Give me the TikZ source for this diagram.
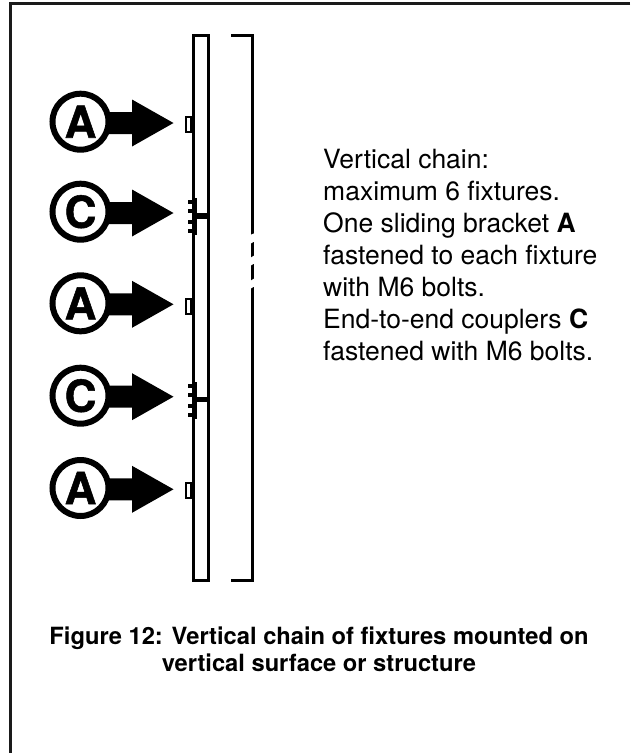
\documentclass[tikz,border=0pt]{standalone}
\usepackage{fontspec}
\setmainfont{TeX Gyre Heros}
\newfontfamily\ringfont[BoldFeatures={FakeBold=1.2}]{TeX Gyre Heros}
\definecolor{edge}{HTML}{1A1A1A}
\tikzset{
  part/.style={draw=black,line width=3pt,fill=white},
  wire/.style={draw=black,line width=3pt},
  tiny/.style={draw=black,line width=2pt,fill=white},
  ring/.style={circle,draw=black,line width=6pt,fill=white,minimum size=56pt,inner sep=0pt,font=\fontsize{44}{44}\selectfont\ringfont\bfseries},
  pointer/.style={fill=black,draw=none},
  gap/.style={fill=white,draw=none},
  bodytext/.style={anchor=north west,align=left,inner sep=0pt,font=\fontsize{26.5}{32}\selectfont},
  captext/.style={align=center,inner sep=0pt,font=\fontsize{23.7}{27.5}\selectfont\bfseries}
}
\newcommand{\mypointer}[1]{\fill[pointer] (105,#1-11) -- (132,#1-11) -- (132,#1-23.5) -- (173.5,#1) -- (132,#1+23.5) -- (132,#1+11) -- (105,#1+11) -- cycle;}
\begin{document}
\begin{tikzpicture}[x=1pt,y=-1pt]
\useasboundingbox (0,0) rectangle (630,753);
\fill[white] (0,0) rectangle (630,753);
\draw[edge,line width=3pt] (630,3.5) -- (10.5,3.5) -- (10.5,753);
% fixture column
\draw[part] (193,35.5) rectangle (208.5,580);
% bracket
\coordinate (b1) at (231,35.5);
\coordinate (b2) at (252.5,35.5);
\coordinate (b3) at (252.5,580);
\coordinate (b4) at (231,580);
\draw[wire] (b1) -- (b2) -- (b3) -- (b4);
\fill[gap] (250,235) -- (255,233) -- (255,241) -- (250,244) -- cycle;
\fill[gap] (250,258) -- (255,255) -- (255,263) -- (250,266) -- cycle;
\fill[gap] (250,281) -- (255,278) -- (255,286) -- (250,289) -- cycle;
% sliding brackets
\foreach \yy in {123,305,489.3} {
  \draw[tiny] (186,\yy-6) rectangle (191,\yy+9);
}
% couplers
\foreach \yy in {213,396.7} {
  \fill (193,\yy) rectangle (208,\yy+5.5);
  \fill (193.3,\yy-15) rectangle (196.7,\yy+22);
  \foreach \dd in {-13,-4,7,16} {
    \fill (187.7,\yy+\dd) rectangle (194,\yy+\dd+4.2);
  }
}
% pointers
\mypointer{123}\mypointer{213}\mypointer{304.3}\mypointer{396.7}\mypointer{489.3}
\node[ring] (a1) at (80.5,121.7) {A};
\node[ring] (c1) at (80.5,211.7) {C};
\node[ring] (a2) at (80.5,303.3) {A};
\node[ring] (c2) at (80.5,395.7) {C};
\node[ring] (a3) at (80.5,488) {A};
\node[bodytext] (txt) at (323,149) {Vertical chain:\\maximum 6 fixtures.\\One sliding bracket \textbf{A}\\fastened to each fixture\\with M6 bolts.\\End-to-end couplers \textbf{C}\\fastened with M6 bolts.};
\node[captext] (title) at (319,649.5) {Figure 12: Vertical chain of fixtures mounted on\\vertical surface or structure};
\end{tikzpicture}
\end{document}
